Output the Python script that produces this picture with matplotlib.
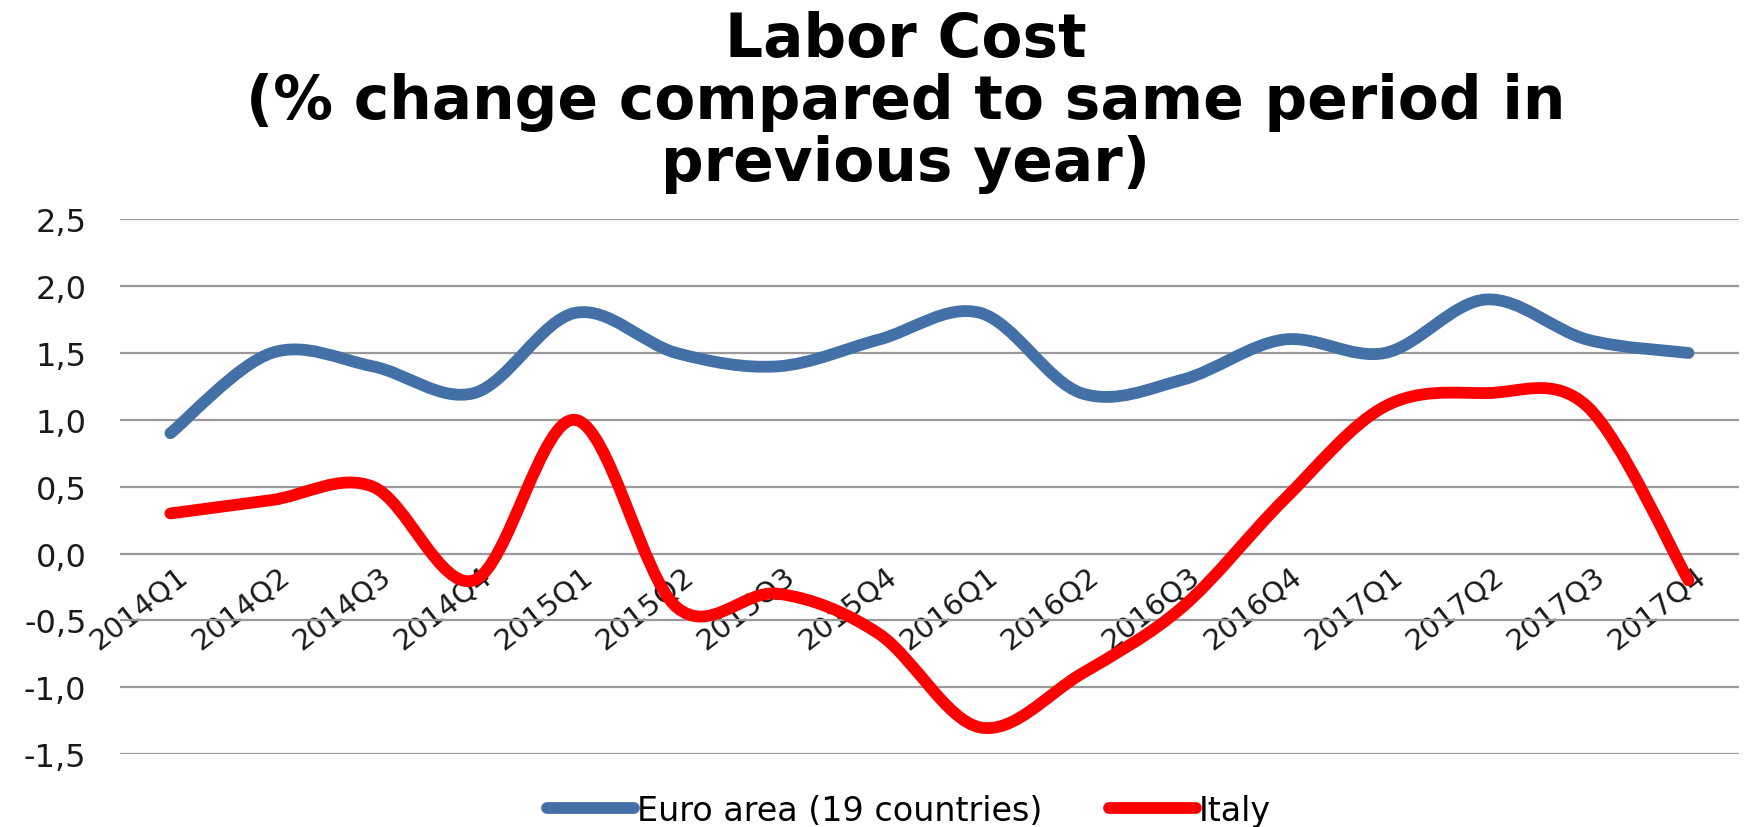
import matplotlib
matplotlib.use('Agg')
import matplotlib.pyplot as plt
import numpy as np
from matplotlib.path import Path
from matplotlib.patches import PathPatch
from matplotlib.lines import Line2D
from matplotlib.ticker import FuncFormatter, MultipleLocator
from matplotlib.transforms import ScaledTranslation

plt.rcParams['font.family'] = ['DejaVu Sans']

# quarters and series values (% change vs same quarter of previous year)
quarters = ['2014Q1', '2014Q2', '2014Q3', '2014Q4',
            '2015Q1', '2015Q2', '2015Q3', '2015Q4',
            '2016Q1', '2016Q2', '2016Q3', '2016Q4',
            '2017Q1', '2017Q2', '2017Q3', '2017Q4']
euro_area = [0.9, 1.5, 1.4, 1.2, 1.8, 1.5, 1.4, 1.6,
             1.8, 1.2, 1.3, 1.6, 1.5, 1.9, 1.6, 1.5]
italy = [0.3, 0.4, 0.5, -0.2, 1.0, -0.4, -0.3, -0.6,
         -1.3, -0.9, -0.4, 0.4, 1.1, 1.2, 1.1, -0.2]

series_names = ['Euro area (19 countries)', 'Italy']
series_colors = ['#4470A8', '#FF0000']


def smooth_path(xs, ys):
    # Catmull-Rom style bezier through the points, like Excel's smoothed line
    pts = np.column_stack([xs, ys]).astype(float)
    ext = np.vstack([pts[0], pts, pts[-1]])
    verts = [tuple(pts[0])]
    codes = [Path.MOVETO]
    for i in range(len(pts) - 1):
        p0, p1, p2, p3 = ext[i], ext[i + 1], ext[i + 2], ext[i + 3]
        c1 = p1 + (p2 - p0) / 6.0
        c2 = p2 - (p3 - p1) / 6.0
        verts += [tuple(c1), tuple(c2), tuple(p2)]
        codes += [Path.CURVE4] * 3
    return Path(verts, codes)


fig = plt.figure(figsize=(17.62, 8.28), dpi=100)
ax = fig.add_axes([0.068, 0.088, 0.919, 0.646])

x = np.arange(len(quarters))
handles = []
for vals, name, col in zip([euro_area, italy], series_names, series_colors):
    patch = PathPatch(smooth_path(x, vals), facecolor='none', edgecolor=col,
                      lw=8.5, capstyle='round', joinstyle='round', zorder=3)
    ax.add_patch(patch)
    handles.append(Line2D([], [], color=col, lw=8.5, solid_capstyle='round', label=name))

ax.set_xlim(-0.5, len(quarters) - 0.5)
ax.set_ylim(-1.5, 2.5)
ax.yaxis.set_major_locator(MultipleLocator(0.5))
ax.yaxis.set_major_formatter(FuncFormatter(lambda v, p: f'{v:.1f}'.replace('.', ',')))
ax.grid(axis='y', color='#9a9a9a', lw=1.6)
ax.set_axisbelow(True)

for s in ['top', 'right', 'left']:
    ax.spines[s].set_visible(False)
ax.spines['bottom'].set_position(('data', 0))
ax.spines['bottom'].set_visible(False)

ax.set_xticks(x)
ax.set_xticklabels(quarters, rotation=38, ha='right', va='top',
                   rotation_mode='anchor', fontsize=21, color='#1a1a1a')
ax.tick_params(axis='x', length=0, pad=5)
ax.tick_params(axis='y', length=0, pad=24, labelsize=23, labelcolor='#1a1a1a')
for lab in ax.get_xticklabels():
    lab.set_transform(lab.get_transform() + ScaledTranslation(0.06, 0, fig.dpi_scale_trans))

fig.text(0.514, 0.876, 'Labor Cost\n(% change compared to same period in\nprevious year)',
         ha='center', va='center', fontsize=43, fontweight='bold',
         linespacing=1.06, color='black')

fig.legend(handles=handles, loc='center', bbox_to_anchor=(0.516, 0.02),
           ncol=2, frameon=False, fontsize=24, handlelength=2.6,
           handletextpad=0.1, columnspacing=2.0)

fig.savefig('out.png', dpi=100)
